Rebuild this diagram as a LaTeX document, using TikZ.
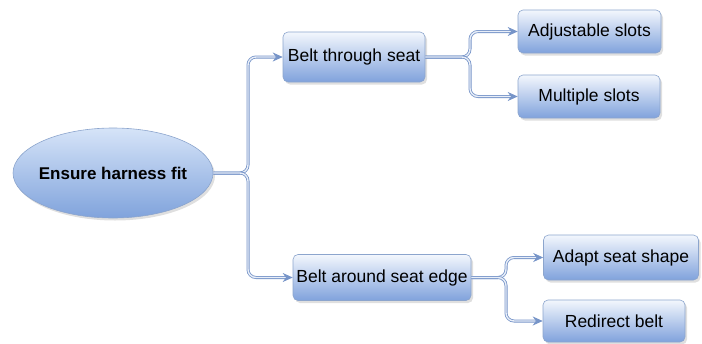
\documentclass[tikz,border=0pt]{standalone}
\usepackage{fontspec}
\setmainfont{Liberation Sans}
\usetikzlibrary{shadows,arrows.meta,shapes.geometric}
\definecolor{boxtop}{RGB}{243,247,253}
\definecolor{boxbot}{RGB}{128,162,220}
\definecolor{elltop}{RGB}{214,228,248}
\definecolor{ellbot}{RGB}{128,163,220}
\definecolor{edge}{RGB}{140,165,205}
\definecolor{lineblue}{RGB}{118,148,200}
\definecolor{lineinner}{RGB}{232,238,248}
\tikzset{
  topic/.style={rectangle, rounded corners=5pt, draw=edge, line width=0.6pt,
    top color=boxtop, bottom color=boxbot, inner sep=0pt,
    font=\fontsize{17.5}{20}\selectfont,
    drop shadow={shadow xshift=2pt, shadow yshift=-2.5pt, opacity=0.25, fill=black!50}},
  central/.style={ellipse, draw=edge, line width=0.6pt,
    top color=elltop, bottom color=ellbot, inner sep=0pt,
    minimum width=200pt, minimum height=90pt,
    font=\fontsize{17}{20}\selectfont\bfseries,
    drop shadow={shadow xshift=2pt, shadow yshift=-2.5pt, opacity=0.25, fill=black!50}},
  conn/.style={draw=lineblue, line width=0.8pt, double=lineinner, double distance=1.4pt,
    rounded corners=8pt, -{Stealth[length=10pt,width=9pt,fill=lineblue]}},
}
\begin{document}
\begin{tikzpicture}[x=1pt,y=-1pt]
\useasboundingbox (0,0) rectangle (702,343);
\node[central] (root) at (113,173) {\makebox[0pt]{Ensure harness fit}};
\node[topic, minimum width=142pt, minimum height=50pt] (b1) at (354,57) {Belt through seat};
\node[topic, minimum width=178pt, minimum height=46pt] (b2) at (382,277.5) {Belt around seat edge};
\node[topic, minimum width=143pt, minimum height=43pt] (c1) at (589.5,31.5) {Adjustable slots};
\node[topic, minimum width=142pt, minimum height=43pt] (c2) at (589,96.5) {Multiple slots};
\node[topic, minimum width=155pt, minimum height=45pt] (d1) at (621,257.5) {Adapt seat shape};
\node[topic, minimum width=142pt, minimum height=42pt] (d2) at (614,321) {Redirect belt};
\coordinate (j1) at (248,173);
\coordinate (j2) at (470,57);
\coordinate (j3) at (506,277.5);
\draw[conn] (root.east) -- (j1) |- (b1.west);
\draw[conn] (root.east) -- (j1) |- (b2.west);
\draw[conn] (b1.east) -- (j2) |- (c1.west);
\draw[conn] (b1.east) -- (j2) |- (c2.west);
\draw[conn] (b2.east) -- (j3) |- (d1.west);
\draw[conn] (b2.east) -- (j3) |- (d2.west);
\end{tikzpicture}
\end{document}
